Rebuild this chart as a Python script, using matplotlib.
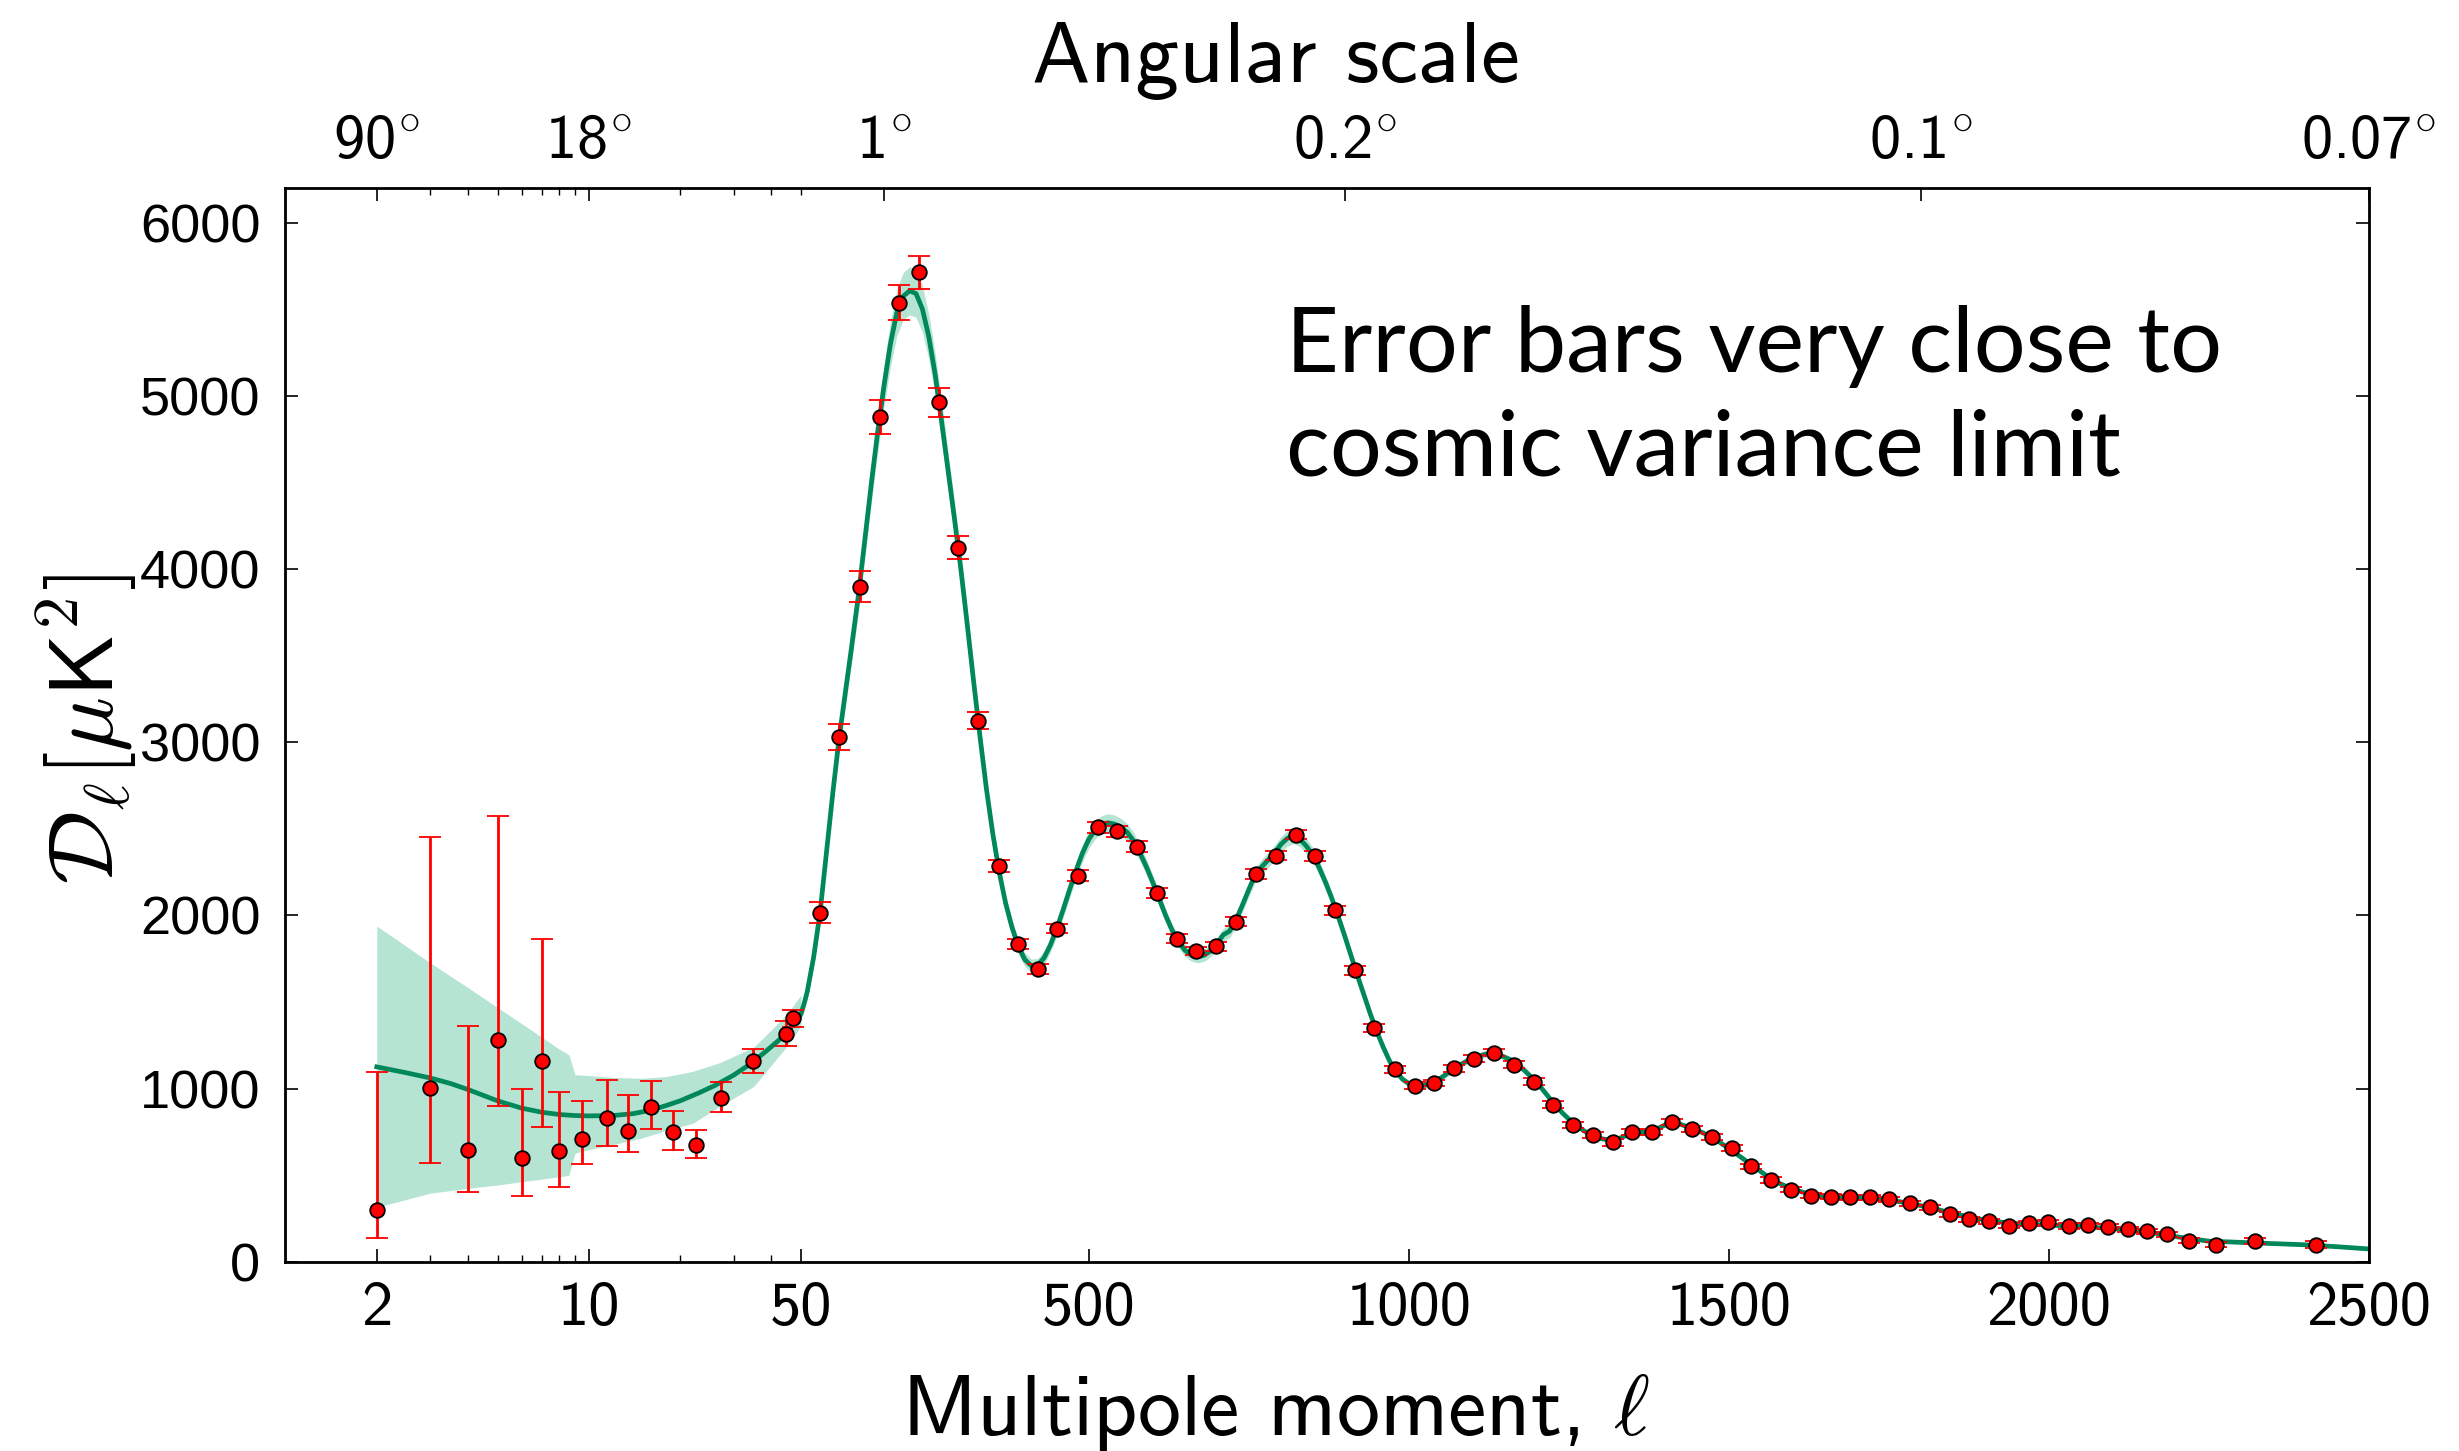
""" Planck CMB temperature power spectrum: binned points, best-fit curve and cosmic variance band. """

import numpy as np
import matplotlib
matplotlib.use('Agg')
import matplotlib.pyplot as plt
from matplotlib.ticker import FixedLocator, NullFormatter

plt.rcParams['mathtext.fontset'] = 'cm'

# ---- data ----
# low multipoles (log part of the axis), asymmetric error bars
low_ell = [2, 3, 4, 5, 6, 7, 8, 9.5, 11.5, 13.5, 16, 19, 22.6, 27.2, 34.8, 44.6, 47.2]
low_dl = [297, 1004, 644, 1284, 598, 1162, 640, 709, 831, 754, 892, 750, 675, 944, 1162, 1317, 1408]
low_top = [1097, 2454, 1363, 2576, 999, 1862, 983, 931, 1053, 962, 1047, 869, 763, 1041, 1231, 1388, 1457]
low_bot = [137, 571, 401, 898, 378, 779, 430, 567, 667, 632, 767, 644, 598, 865, 1091, 1249, 1355]

# binned high multipoles
high_ell = [80, 110, 142, 173, 204, 235, 266, 296, 327, 359,
            389, 421, 451, 483, 514, 544, 575, 607, 637, 668,
            699, 730, 761, 792, 823, 854, 885, 916, 946, 978,
            1009, 1040, 1071, 1102, 1133, 1164, 1195, 1226, 1257, 1288,
            1319, 1349, 1380, 1411, 1442, 1473, 1505, 1535, 1566, 1597,
            1628, 1659, 1690, 1721, 1751, 1783, 1814, 1845, 1876, 1907,
            1938, 1969, 1999, 2031, 2062, 2093, 2124, 2154, 2185, 2219,
            2262, 2322, 2418]
high_dl = [2016, 3030, 3899, 4875, 5538, 5712, 4962, 4123, 3125, 2286,
           1837, 1693, 1924, 2230, 2510, 2485, 2398, 2128, 1866, 1795,
           1822, 1964, 2240, 2346, 2467, 2342, 2030, 1683, 1351, 1112,
           1018, 1033, 1118, 1172, 1207, 1139, 1041, 908, 792, 731,
           690, 748, 748, 806, 768, 720, 656, 552, 474, 416,
           382, 377, 372, 372, 362, 339, 316, 276, 247, 235,
           210, 222, 229, 208, 212, 203, 189, 177, 160, 123,
           100, 121, 100]
high_err = [60, 74, 88, 98, 102, 95, 83, 65, 48, 35,
            30, 28, 28, 30, 32, 32, 30, 28, 26, 25,
            25, 25, 27, 28, 28, 28, 25, 24, 22, 20,
            20, 20, 20, 20, 20, 20, 20, 19, 18, 18,
            18, 18, 18, 18, 18, 17, 17, 16, 16, 15,
            15, 15, 15, 15, 15, 15, 15, 15, 15, 15,
            15, 15, 15, 15, 15, 15, 15, 15, 15, 16,
            16, 18, 20]

# best-fit model, low-l part
fit_low_ell = [2, 2.5, 3, 3.5, 4, 5, 6, 7, 8, 9, 10, 12, 14, 16, 18, 20, 23, 26, 30, 34, 38, 42, 46, 50]
fit_low_dl = [1126, 1092, 1062, 1030, 995, 930, 888, 864, 851, 845, 843, 845, 856, 876, 903, 930,
              975, 1018, 1078, 1142, 1210, 1275, 1345, 1430]

# cosmic variance band, low-l part
band_ell = [2, 3, 4, 5, 6, 7, 8, 8.6, 9.0, 10, 12, 15, 18, 22, 27, 35, 45, 50]
band_hi = [1939, 1727, 1583, 1469, 1376, 1297, 1228, 1195, 1081, 1076, 1065, 1060, 1070, 1100, 1150, 1240, 1430, 1540]
band_lo = [316, 397, 425, 444, 463, 478, 492, 500, 628, 648, 677, 716, 760, 800, 898, 1014, 1245, 1361]

# best-fit model, high-l part, with band half width
fit_ell = [50, 55, 60, 70, 80, 90, 100, 110, 120, 130,
           140, 150, 160, 170, 180, 190, 200, 210, 220, 230,
           240, 250, 260, 270, 280, 290, 300, 310, 320, 330,
           340, 350, 360, 370, 380, 390, 400, 410, 420, 430,
           440, 450, 460, 470, 480, 490, 500, 510, 520, 530,
           540, 550, 560, 570, 580, 590, 600, 610, 620, 630,
           640, 650, 660, 670, 680, 690, 700, 710, 720, 730,
           740, 750, 760, 770, 780, 790, 800, 810, 820, 830,
           840, 850, 860, 870, 880, 890, 900, 910, 920, 930,
           940, 950, 960, 970, 980, 990, 1000, 1010, 1020, 1030,
           1040, 1050, 1060, 1070, 1080, 1100, 1120, 1140, 1160, 1180,
           1200, 1220, 1240, 1260, 1280, 1300, 1320, 1340, 1360, 1380,
           1400, 1420, 1440, 1460, 1480, 1500, 1520, 1540, 1560, 1580,
           1600, 1620, 1640, 1660, 1680, 1700, 1720, 1740, 1760, 1780,
           1800, 1820, 1840, 1860, 1880, 1900, 1920, 1940, 1960, 1980,
           2000, 2050, 2100, 2150, 2200, 2250, 2300, 2350, 2400, 2450,
           2500]
fit_dl = [1430, 1490, 1560, 1760, 2016, 2360, 2710, 3030, 3300, 3570,
          3850, 4170, 4490, 4790, 5060, 5300, 5480, 5575, 5606, 5590,
          5500, 5340, 5120, 4850, 4570, 4290, 4000, 3680, 3350, 3030,
          2730, 2470, 2250, 2070, 1930, 1820, 1745, 1710, 1712, 1755,
          1830, 1925, 2035, 2150, 2260, 2360, 2440, 2495, 2525, 2535,
          2528, 2510, 2480, 2430, 2360, 2280, 2190, 2095, 2000, 1915,
          1850, 1800, 1772, 1762, 1770, 1795, 1835, 1888, 1910, 1975,
          2060, 2150, 2235, 2280, 2320, 2360, 2410, 2445, 2460, 2440,
          2400, 2350, 2275, 2190, 2095, 1990, 1880, 1765, 1650, 1540,
          1430, 1330, 1240, 1160, 1100, 1055, 1030, 1018, 1016, 1024,
          1040, 1062, 1088, 1113, 1138, 1178, 1200, 1198, 1165, 1108,
          1037, 945, 860, 790, 742, 712, 700, 730, 748, 755,
          790, 800, 775, 745, 705, 655, 602, 548, 495, 452,
          420, 398, 384, 377, 373, 371, 368, 362, 352, 340,
          325, 308, 290, 272, 256, 243, 232, 224, 219, 216,
          213, 205, 192, 176, 145, 120, 113, 106, 99, 88,
          75]
fit_cv = [40, 40, 42, 48, 55, 62, 70, 78, 85, 92,
          98, 105, 112, 118, 124, 130, 134, 137, 138, 137,
          134, 129, 122, 115, 108, 101, 94, 86, 78, 71,
          64, 58, 53, 48, 45, 42, 40, 39, 39, 40,
          41, 43, 45, 47, 48, 50, 51, 52, 52, 52,
          52, 51, 50, 49, 47, 45, 43, 41, 39, 38,
          37, 36, 35, 35, 35, 35, 36, 37, 38, 39,
          40, 41, 42, 43, 44, 44, 45, 45, 45, 44,
          44, 43, 42, 40, 38, 36, 34, 32, 30, 28,
          26, 24, 22, 21, 20, 19, 18, 18, 18, 18,
          18, 18, 18, 18, 18, 18, 18, 18, 18, 17,
          16, 15, 14, 13, 13, 12, 12, 12, 12, 12,
          12, 11, 11, 10, 10, 10, 9, 9, 9, 9,
          9, 9, 9, 9, 8, 8, 8, 8, 8, 8,
          8, 8, 8, 8, 8, 8, 8, 8, 8, 8,
          8, 8, 8, 8, 8, 8, 8, 8, 8, 8,
          8]

x_ticks = [2, 10, 50, 500, 1000, 1500, 2000, 2500]
x_minor = [3, 4, 5, 6, 7, 8, 9, 20, 30, 40]
top_ticks = [2, 10, 180, 900, 1800, 2500]
top_labels = ['90', '18', '1', '0.2', '0.1', '0.07']
top_minor = [3, 4, 5, 6, 7, 8, 9, 20, 30, 40, 50]
y_ticks = [0, 1000, 2000, 3000, 4000, 5000, 6000]

CURVE = '#00875a'
BAND = '#b5e4d3'
SANS = 'cmss10'   # Computer Modern Sans, shipped with matplotlib


# Axis is logarithmic up to l = 50 and linear above it.
DECADE = 474.0   # width of one decade, in units of l on the linear part
SPLIT = 50.0

def forward(l):
    l = np.asarray(l, dtype=float)
    logpart = np.log10(np.clip(l, 1e-6, SPLIT)) * DECADE
    return np.where(l <= SPLIT, logpart, np.log10(SPLIT) * DECADE + (l - SPLIT))

def inverse(u):
    u = np.asarray(u, dtype=float)
    b = np.log10(SPLIT) * DECADE
    return np.where(u <= b, 10 ** (np.minimum(u, b) / DECADE), SPLIT + (u - b))


fig = plt.figure(figsize=(24.59, 14.51), dpi=100)
ax = fig.add_axes([0.1161, 0.1303, 0.8472, 0.7402])
ax.set_xscale('function', functions=(forward, inverse))

# band and model
ax.fill_between(band_ell, band_lo, band_hi, color=BAND, lw=0, zorder=1)
fit_dl_a = np.array(fit_dl)
fit_cv_a = np.array(fit_cv)
ax.fill_between(fit_ell, fit_dl_a - fit_cv_a, fit_dl_a + fit_cv_a, color=BAND, lw=0, zorder=1)
ax.plot(fit_low_ell + fit_ell[1:], fit_low_dl + fit_dl[1:], color=CURVE, lw=3.4, zorder=2)

# data points
low_dl_a = np.array(low_dl)
low_err = [low_dl_a - np.array(low_bot), np.array(low_top) - low_dl_a]
ax.errorbar(low_ell, low_dl, yerr=low_err, fmt='o', ms=10.5, mfc='red', mec='black', mew=1.3,
            ecolor='red', elinewidth=2.0, capsize=8, capthick=2.0, zorder=3)
ax.errorbar(high_ell, high_dl, yerr=high_err, fmt='o', ms=10.5, mfc='red', mec='black', mew=1.3,
            ecolor='red', elinewidth=2.0, capsize=8, capthick=2.0, zorder=3)

ax.set_xlim(1, 2500)
ax.set_ylim(0, 6200)

# bottom axis ticks
ax.xaxis.set_major_locator(FixedLocator(x_ticks))
ax.set_xticklabels([str(t) for t in x_ticks], fontfamily=SANS, fontsize=45)
ax.xaxis.set_minor_locator(FixedLocator(x_minor))
ax.xaxis.set_minor_formatter(NullFormatter())
ax.yaxis.set_major_locator(FixedLocator(y_ticks))
ax.set_yticklabels([str(t) for t in y_ticks], fontfamily='Liberation Sans', fontsize=39)
ax.tick_params(axis='x', which='major', direction='in', length=9.5, width=1.2, pad=14, top=False)
ax.tick_params(axis='x', which='minor', direction='in', length=5, width=1.0, top=False)
ax.tick_params(axis='y', which='major', direction='in', length=9.5, width=1.2, pad=18, right=True)
for s in ax.spines.values():
    s.set_linewidth(2.0)

# top axis: angular scale
ax2 = ax.twiny()
ax2.set_xscale('function', functions=(forward, inverse))
ax2.set_xlim(1, 2500)
ax2.xaxis.set_major_locator(FixedLocator(top_ticks))
ax2.set_xticklabels([s + r'$^{\circ}$' for s in top_labels], fontfamily=SANS, fontsize=45)
ax2.xaxis.set_minor_locator(FixedLocator(top_minor))
ax2.xaxis.set_minor_formatter(NullFormatter())
ax2.tick_params(axis='x', which='major', direction='in', length=9.5, width=1.2, pad=12)
ax2.tick_params(axis='x', which='minor', direction='in', length=5, width=1.0)

# labels
fig.text(0.5189, 0.011, r'Multipole moment, $\ell$', fontfamily=SANS, fontsize=62,
         ha='center', va='baseline')
fig.text(0.5187, 0.9435, 'Angular scale', fontfamily=SANS, fontsize=63, ha='center', va='baseline')
fig.text(0.035, 0.4976, r'$\mathcal{D}_\ell[\mu\mathsf{K}^{\mathsf{2}}]$', fontsize=66,
         rotation=90, ha='center', va='center')

fig.text(0.523, 0.7436, 'Error bars very close to', fontfamily='Lato', fontsize=66, va='baseline')
fig.text(0.523, 0.6726, 'cosmic variance limit', fontfamily='Lato', fontsize=66, va='baseline')

fig.savefig('out.png', dpi=100)
